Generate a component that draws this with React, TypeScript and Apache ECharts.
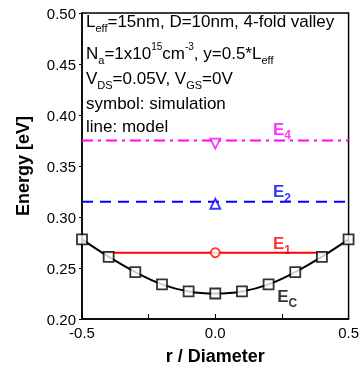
import React, { useEffect, useRef } from 'react';
import * as echarts from 'echarts';

// r / Diameter positions of the simulation points
const rPos = [-0.5, -0.4, -0.3, -0.2, -0.1, 0.0, 0.1, 0.2, 0.3, 0.4, 0.5];
// conduction band edge Ec: simulation (symbols) and model (line)
const ecSim = [0.278, 0.261, 0.246, 0.234, 0.227, 0.225, 0.227, 0.234, 0.246, 0.261, 0.278];
const ecModel = [0.278, 0.261, 0.246, 0.234, 0.227, 0.225, 0.227, 0.234, 0.246, 0.261, 0.278];
// subband energies (model lines)
const e1Model = 0.265;
const e1Range = [-0.418, 0.418];
const e2Model = 0.315;
const e4Model = 0.375;
// subband energies (simulation symbols at r = 0)
const e1Sim = 0.265;
const e2Sim = 0.313;
const e4Sim = 0.372;
// label anchors
const labelE4 = [0.25, 0.386];
const labelE2 = [0.25, 0.325];
const labelE1 = [0.25, 0.274];
const labelEc = [0.27, 0.222];
const xTicks = [-0.5, 0.0, 0.5];
const yTicks = [0.2, 0.25, 0.3, 0.35, 0.4, 0.45, 0.5];

const FONT = '"Liberation Sans", Arial, sans-serif';

export default function App() {
  const ref = useRef<HTMLDivElement>(null);
  useEffect(() => {
    if (!ref.current) return;
    const chart = echarts.init(ref.current, null, { renderer: 'svg' });
    const annot = (center: number, text: string) => ({
      type: 'text',
      left: 86,
      top: center - 12,
      style: {
        text,
        fill: '#000',
        font: `17px ${FONT}`,
        rich: {
          n: { fontSize: 17, fontFamily: FONT, fill: '#000', lineHeight: 24 },
          b: { fontSize: 11, fontFamily: FONT, fill: '#000', verticalAlign: 'bottom', lineHeight: 12 },
          p: { fontSize: 10, fontFamily: FONT, fill: '#000', verticalAlign: 'top', lineHeight: 12 },
        },
      },
    });
    const eLabel = (color: string, main: string, s: string) => ({
      show: true,
      position: 'inside',
      formatter: `{m|${main}}{s|${s}}`,
      rich: {
        m: { fontSize: 17, fontWeight: 'bold', fontFamily: FONT, color, lineHeight: 24 },
        s: { fontSize: 12, fontWeight: 'bold', fontFamily: FONT, color, verticalAlign: 'bottom', lineHeight: 12 },
      },
    });
    chart.setOption({
      animation: false,
      textStyle: { fontFamily: FONT },
      grid: { left: 82, right: 12, top: 13, bottom: 46, show: true, borderColor: '#000', borderWidth: 1.5 },
      xAxis: {
        type: 'value',
        min: xTicks[0],
        max: xTicks[xTicks.length - 1],
        interval: 0.5,
        name: 'r / Diameter',
        nameLocation: 'middle',
        nameGap: 28,
        nameTextStyle: { fontSize: 18, fontWeight: 'bold', color: '#000', fontFamily: FONT },
        axisLine: { onZero: false, lineStyle: { color: '#000', width: 1.5 } },
        axisTick: { inside: true, length: 5, lineStyle: { color: '#000' } },
        minorTick: { show: true, splitNumber: 2, length: 5, lineStyle: { color: '#000' } },
        axisLabel: { color: '#000', fontSize: 15, margin: 6, formatter: (v: number) => v.toFixed(1) },
        splitLine: { show: false },
      },
      yAxis: {
        type: 'value',
        min: yTicks[0],
        max: yTicks[yTicks.length - 1],
        interval: 0.05,
        name: 'Energy [eV]',
        nameLocation: 'middle',
        nameGap: 50,
        nameTextStyle: { fontSize: 18, fontWeight: 'bold', color: '#000', fontFamily: FONT },
        axisLine: { show: true, onZero: false, lineStyle: { color: '#000', width: 1.5 } },
        axisTick: { show: true, inside: false, length: 3, lineStyle: { color: '#000' } },
        axisLabel: { color: '#000', fontSize: 15, margin: 6, formatter: (v: number) => v.toFixed(2) },
        splitLine: { show: false },
      },
      graphic: [
        annot(25, '{n|L}{b|eff}{n|=15nm, D=10nm, 4-fold valley}'),
        annot(53, '{n|N}{b|a}{n|=1x10}{p|15}{n|cm}{p|-3}{n|, y=0.5*L}{b|eff}'),
        annot(82, '{n|V}{b|DS}{n|=0.05V, V}{b|GS}{n|=0V}'),
        annot(107, '{n|symbol: simulation}'),
        annot(130, '{n|line: model}'),
      ],
      series: [
        {
          type: 'line',
          name: 'Ec model',
          smooth: 0.4,
          showSymbol: false,
          data: rPos.map((r, i) => [r, ecModel[i]]),
          lineStyle: { color: '#000', width: 2 },
          z: 2,
        },
        {
          type: 'scatter',
          name: 'Ec sim',
          symbol: 'rect',
          symbolSize: 10,
          data: rPos.map((r, i) => [r, ecSim[i]]),
          itemStyle: { color: '#fff', borderColor: '#000', borderWidth: 1.8 },
          z: 5,
        },
        {
          type: 'line',
          name: 'E1 model',
          showSymbol: false,
          data: [[e1Range[0], e1Model], [e1Range[1], e1Model]],
          lineStyle: { color: '#ff0000', width: 2 },
          z: 3,
        },
        {
          type: 'scatter',
          name: 'E1 sim',
          symbol: 'circle',
          symbolSize: 9,
          data: [[0, e1Sim]],
          itemStyle: { color: '#fff', borderColor: '#ff0000', borderWidth: 1.8 },
          z: 5,
        },
        {
          type: 'line',
          name: 'E2 model',
          showSymbol: false,
          data: [[xTicks[0], e2Model], [xTicks[2], e2Model]],
          lineStyle: { color: '#0000ff', width: 2, type: [11, 7] },
          z: 3,
        },
        {
          type: 'scatter',
          name: 'E2 sim',
          symbol: 'triangle',
          symbolSize: 10,
          data: [[0, e2Sim]],
          itemStyle: { color: '#fff', borderColor: '#0000ff', borderWidth: 1.8 },
          z: 5,
        },
        {
          type: 'line',
          name: 'E4 model',
          showSymbol: false,
          data: [[xTicks[0], e4Model], [xTicks[2], e4Model]],
          lineStyle: { color: '#ff00ff', width: 2, type: [11, 5, 3, 5] },
          z: 3,
        },
        {
          type: 'scatter',
          name: 'E4 sim',
          symbol: 'triangle',
          symbolRotate: 180,
          symbolSize: 10,
          data: [[0, e4Sim]],
          itemStyle: { color: '#fff', borderColor: '#ff00ff', borderWidth: 1.8 },
          z: 5,
        },
        {
          type: 'scatter',
          name: 'labels',
          symbolSize: 0,
          silent: true,
          data: [
            { value: labelE4, label: eLabel('#ff00ff', 'E', '4') },
            { value: labelE2, label: eLabel('#0000ff', 'E', '2') },
            { value: labelE1, label: eLabel('#ff0000', 'E', '1') },
            { value: labelEc, label: eLabel('#000', 'E', 'C') },
          ],
          z: 6,
        },
      ],
    });
    return () => chart.dispose();
  }, []);
  return <div ref={ref} style={{ position: 'fixed', left: 0, top: 0, width: 362, height: 370 }} />;
}
